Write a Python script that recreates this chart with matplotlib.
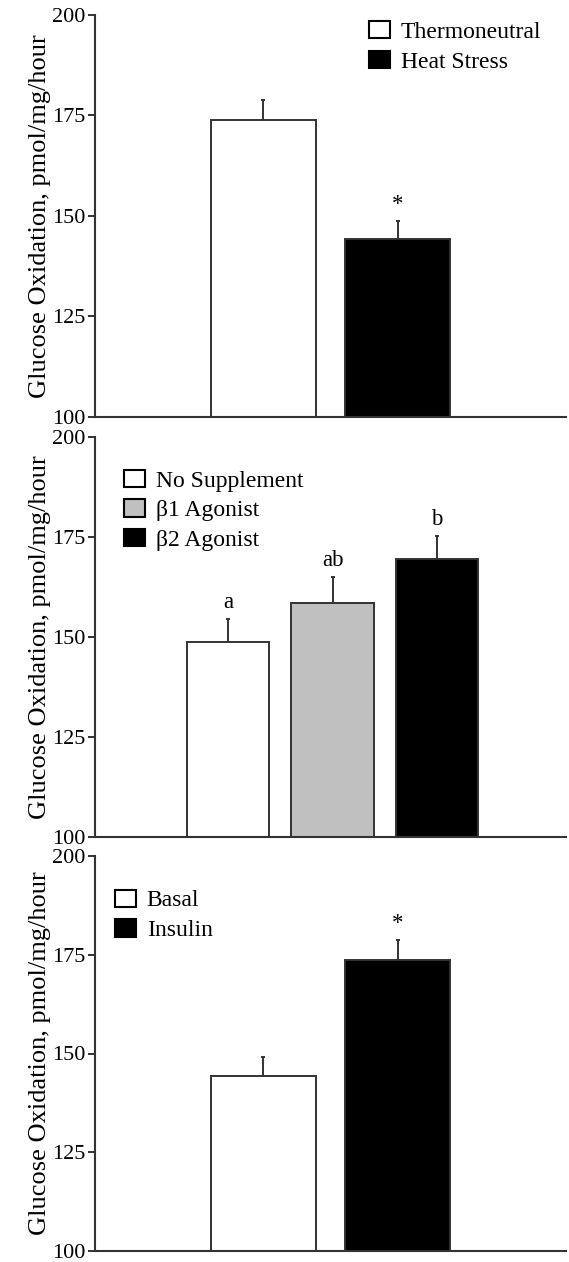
import numpy as np
import matplotlib
matplotlib.use("Agg")
import matplotlib.pyplot as plt
from matplotlib.patches import Patch

plt.rcParams["font.family"] = ["Liberation Serif", "DejaVu Serif"]

# Panel A: temperature
temp_groups = ["Thermoneutral", "Heat Stress"]
temp_means = [173.8, 144.2]
temp_sem = [5.0, 4.6]
temp_marks = ["", "*"]
temp_colors = ["white", "black"]

# Panel B: adrenergic agonists
agon_groups = ["No Supplement", "\u03b21 Agonist", "\u03b22 Agonist"]
agon_means = [148.8, 158.6, 169.5]
agon_sem = [5.8, 6.4, 5.8]
agon_marks = ["a", "ab", "b"]
agon_colors = ["white", "#c0c0c0", "black"]

# Panel C: insulin
ins_groups = ["Basal", "Insulin"]
ins_means = [144.3, 173.7]
ins_sem = [4.8, 5.1]
ins_marks = ["", "*"]
ins_colors = ["white", "black"]

yticks = [100, 125, 150, 175, 200]
ylabel = "Glucose Oxidation, pmol/mg/hour"

W, H = 569, 1262
fig = plt.figure(figsize=(W / 100, H / 100), dpi=100)

axcol = "#333333"


def px_axes(left, right, top, bottom):
    return fig.add_axes([left / W, 1 - bottom / H, (right - left) / W, (bottom - top) / H])


def draw_panel(ax, groups, means, sem, marks, colors, xlim, leg_xy):
    x = np.arange(len(groups))
    ax.bar(x, np.array(means) - 100, bottom=100, width=0.79, color=colors,
           edgecolor=axcol, linewidth=1.4, zorder=2)
    ax.errorbar(x, means, yerr=[np.zeros(len(sem)), sem], fmt="none",
                ecolor=axcol, elinewidth=1.4, capsize=1.5, capthick=1.4, zorder=1)
    for xi, m, s, t in zip(x, means, sem, marks):
        if t:
            ax.annotate(t, (xi, m + s), xytext=(0, 4), textcoords="offset points",
                        ha="center", va="bottom", fontsize=16.5)
    ax.set_xlim(*xlim)
    ax.set_ylim(100, 200)
    ax.set_yticks(yticks)
    ax.set_xticks([])
    ax.tick_params(axis="y", direction="out", length=5, width=1.4, color=axcol,
                   labelsize=16, pad=2)
    for s in ["top", "right"]:
        ax.spines[s].set_visible(False)
    for s in ["left", "bottom"]:
        ax.spines[s].set_color(axcol)
        ax.spines[s].set_linewidth(1.5)
    ax.set_ylabel(ylabel, fontsize=19, labelpad=1)
    handles = [Patch(facecolor=c, edgecolor="black", linewidth=1.5) for c in colors]
    ax.legend(handles, groups, loc="upper left", bbox_to_anchor=leg_xy, frameon=False,
              fontsize=17, handlelength=0.9, handleheight=0.75, handletextpad=0.45,
              labelspacing=0.33, borderpad=0, borderaxespad=0)


ax1 = px_axes(95, 566, 15, 417)
draw_panel(ax1, temp_groups, temp_means, temp_sem, temp_marks, temp_colors,
           (-1.257, 2.257), (0.582, 0.985))

ax2 = px_axes(95, 566, 437, 837)
draw_panel(ax2, agon_groups, agon_means, agon_sem, agon_marks, agon_colors,
           (-1.273, 3.234), (0.062, 0.918))

ax3 = px_axes(95, 566, 856, 1251)
draw_panel(ax3, ins_groups, ins_means, ins_sem, ins_marks, ins_colors,
           (-1.257, 2.257), (0.042, 0.915))

fig.savefig("out.png", dpi=100)
